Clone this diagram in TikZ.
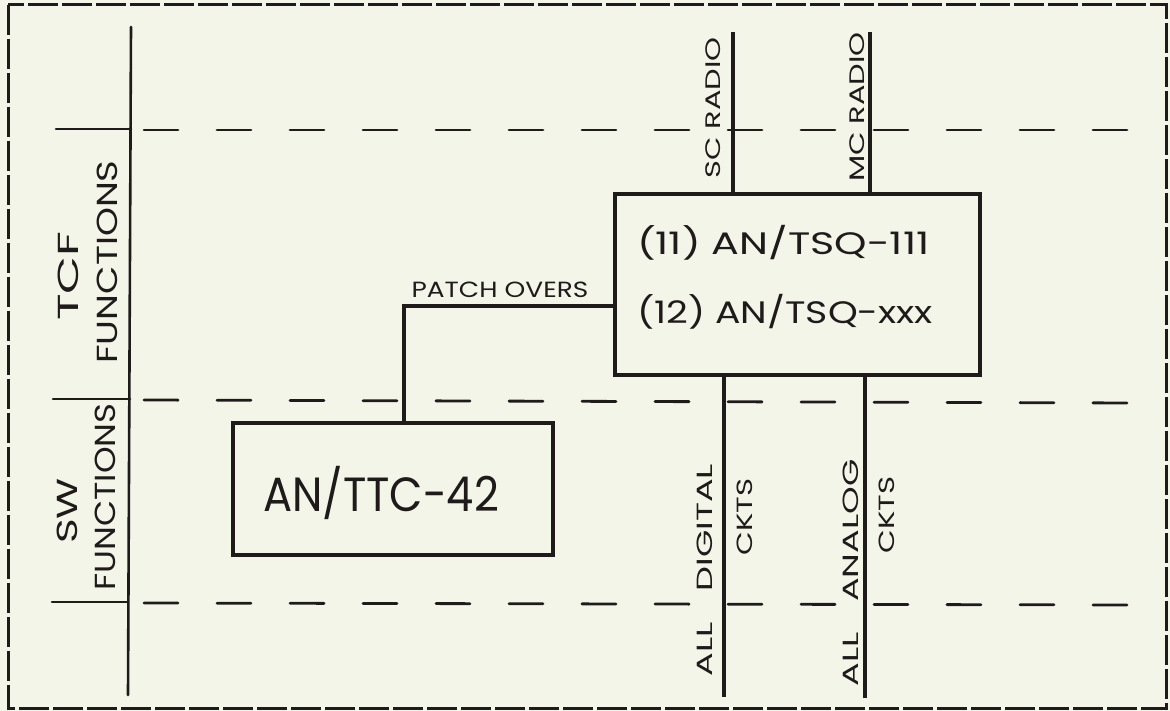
\documentclass[tikz,border=0pt]{standalone}
\usepackage{graphicx}
\usepackage{fontspec}
\setmainfont{Poppins}
\definecolor{ink}{RGB}{32,27,27}
\definecolor{paper}{RGB}{244,245,233}
\newcommand{\widetxt}[2]{\scalebox{#1}[1]{#2}}
\begin{document}
\begin{tikzpicture}[x=1pt,y=-1pt,
  every node/.style={inner sep=0pt, outer sep=0pt, text=ink},
  rulebox/.style={draw=ink, line width=4.2pt, line join=miter},
  wire/.style={draw=ink, line width=4.2pt},
  rule/.style={draw=ink, line width=2.6pt, line cap=round},
  dashline/.style={draw=ink, line width=2.8pt, line cap=round, dash pattern=on 34pt off 39pt},
  frame/.style={draw=ink, line width=3pt, dash pattern=on 30pt off 4pt},
  side/.style={font=\fontsize{29}{32}\selectfont, rotate=90},
  tag/.style={font=\fontsize{21}{24}\selectfont, rotate=90},
  ckt/.style={font=\fontsize{22}{26}\selectfont, rotate=90},
  big/.style={font=\fontsize{31}{36}\selectfont, anchor=west},
  small/.style={font=\fontsize{22}{26}\selectfont}]
\useasboundingbox (0,0) rectangle (1170,711);
\fill[paper] (0,0) rectangle (1170,711);
\draw[frame] (8,5) rectangle (1166,708);

% left column
\coordinate (vtop) at (131,27);
\coordinate (vbot) at (128,695);
\draw[rule] (vtop) -- (vbot);
\coordinate (h1a) at (56,129);  \coordinate (h1b) at (131,129);
\coordinate (h2a) at (53,399);  \coordinate (h2b) at (130,399);
\coordinate (h3a) at (52,602);  \coordinate (h3b) at (128,602);
\draw[rule] (h1a) -- (h1b);
\draw[rule] (h2a) -- (h2b);
\draw[rule] (h3a) -- (h3b);
\coordinate (d1a) at (144,130); \coordinate (d1b) at (1138,130);
\coordinate (d2a) at (144,400); \coordinate (d2b) at (1137,403);
\coordinate (d3a) at (144,603); \coordinate (d3b) at (1136,605);
\draw[dashline] (d1a) -- (d1b);
\draw[dashline] (d2a) -- (d2b);
\draw[dashline] (d3a) -- (d3b);

\node[side] (tcf) at (68,276) {\widetxt{1.7}{TCF}};
\node[side] (tcff) at (107,262) {\widetxt{1.27}{FUNCTIONS}};
\node[side] (sw) at (67,511) {\widetxt{1.45}{SW}};
\node[side] (swf) at (105,497) {\widetxt{1.17}{FUNCTIONS}};

% boxes
\node[rulebox, minimum width=365pt, minimum height=181pt] (tsq) at (797.5,284.5) {};
\node[rulebox, minimum width=320pt, minimum height=132pt] (ttc) at (393,489) {};
\node[big] (t11) at (637,243) {\widetxt{1.33}{(11) AN/TSQ-111}};
\node[big] (t12) at (637,312) {\widetxt{1.22}{(12) AN/TSQ-xxx}};
\node[font=\fontsize{48}{54}\selectfont] (t42) at (381,493) {\widetxt{0.9}{AN/TTC-42}};

% radio lines
\coordinate (sc) at (733,32);
\coordinate (mc) at (870,32);
\draw[wire] (sc) -- (sc |- tsq.north);
\draw[wire] (mc) -- (mc |- tsq.north);
\node[tag] (sct) at (713,108) {\widetxt{1.45}{SC RADIO}};
\node[tag] (mct) at (857,107) {\widetxt{1.45}{MC RADIO}};

% circuit lines
\coordinate (dg) at (724,697);
\coordinate (an) at (865,698);
\draw[wire] (dg |- tsq.south) -- (dg);
\draw[wire] (an |- tsq.south) -- (an);
\node[ckt] (dgt) at (705,570) {\widetxt{1.6}{ALL\hspace{19pt}DIGITAL}};
\node[ckt] (dgc) at (745,517) {\widetxt{1.4}{CKTS}};
\node[ckt] (ant) at (851,573) {\widetxt{1.6}{ALL\hspace{19pt}ANALOG}};
\node[ckt] (anc) at (887,515) {\widetxt{1.4}{CKTS}};

% patch overs
\coordinate (pc) at (404,306);
\draw[wire] (ttc.north -| pc) -- (pc) -- (tsq.west |- pc);
\node[small] (po) at (500,290) {\widetxt{1.2}{PATCH OVERS}};
\end{tikzpicture}
\end{document}
